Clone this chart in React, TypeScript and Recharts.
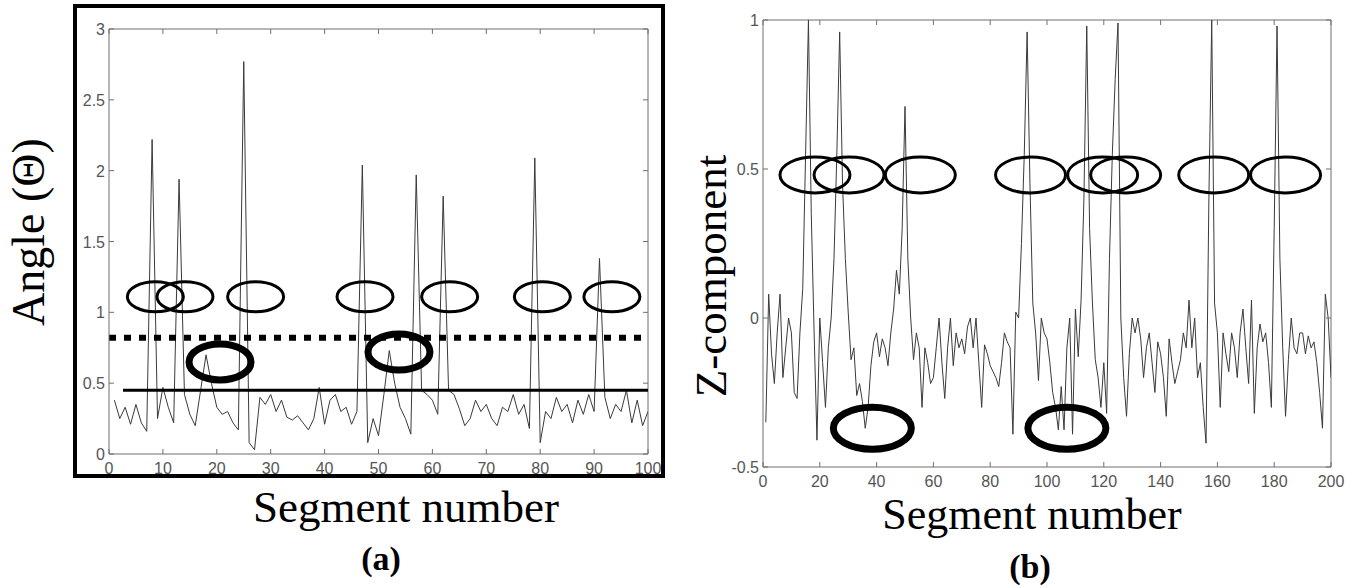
import React from "react";
import { LineChart, Line, XAxis, YAxis, ReferenceLine, ReferenceDot } from "recharts";

// (a) angle between consecutive segments, segments 1..100
const angleValues = [
  0.38, 0.25, 0.33, 0.21, 0.35, 0.22, 0.16, 2.22, 0.25, 0.47,
  0.33, 0.22, 1.94, 0.42, 0.28, 0.2, 0.45, 0.7, 0.5, 0.33,
  0.28, 0.3, 0.22, 0.17, 2.77, 0.08, 0.03, 0.4, 0.35, 0.42,
  0.3, 0.38, 0.26, 0.24, 0.27, 0.22, 0.17, 0.25, 0.47, 0.21,
  0.38, 0.42, 0.3, 0.33, 0.21, 0.3, 2.04, 0.08, 0.25, 0.13,
  0.42, 0.73, 0.5, 0.33, 0.25, 0.14, 1.97, 0.45, 0.42, 0.38,
  0.28, 1.82, 0.45, 0.42, 0.32, 0.2, 0.25, 0.38, 0.3, 0.35,
  0.25, 0.2, 0.33, 0.3, 0.42, 0.28, 0.35, 0.18, 2.09, 0.08,
  0.3, 0.25, 0.4, 0.3, 0.35, 0.22, 0.38, 0.28, 0.42, 0.3,
  1.38, 0.4, 0.25, 0.35, 0.3, 0.45, 0.22, 0.38, 0.2, 0.3,
];

// (b) z-component, segments 1..200
const zValues = [
  -0.35, 0.08, -0.12, -0.22, -0.05, 0.08, -0.2, -0.1, 0.0, -0.05,
  -0.25, -0.27, -0.05, 0.1, 0.55, 1.0, 0.35, -0.05, -0.41, 0.0,
  -0.15, -0.3, -0.1, 0.0, 0.2, 0.55, 0.96, 0.45, 0.2, 0.02,
  -0.14, -0.1, -0.26, -0.22, -0.28, -0.37, -0.3, -0.16, -0.08, -0.05,
  -0.13, -0.07, -0.1, -0.16, -0.05, 0.03, 0.16, 0.08, 0.3, 0.71,
  0.2, 0.0, -0.14, -0.05, -0.1, -0.3, -0.1, -0.15, -0.22, -0.2,
  -0.1, 0.0, -0.15, -0.27, -0.1, 0.0, -0.16, -0.05, -0.1, -0.07,
  -0.12, -0.03, 0.0, -0.1, 0.0, -0.15, -0.3, -0.09, -0.12, -0.16,
  -0.18, -0.2, -0.23, -0.15, -0.05, -0.08, -0.1, -0.39, 0.02, 0.0,
  0.25, 0.55, 0.96, 0.45, 0.05, -0.05, -0.21, 0.0, -0.05, -0.07,
  -0.15, -0.25, -0.3, -0.375, -0.23, -0.375, -0.1, 0.0, -0.39, 0.03,
  -0.13, 0.06, 0.4, 0.98, 0.3, 0.05, -0.14, -0.2, -0.3, -0.15,
  -0.32, 0.2, 0.55, 0.8, 0.99, 0.0, -0.2, -0.33, -0.12, 0.0,
  -0.05, 0.0, -0.07, -0.2, -0.1, -0.05, -0.15, -0.25, -0.08, -0.12,
  -0.2, -0.33, -0.07, -0.15, -0.22, -0.18, -0.14, -0.05, -0.1, 0.06,
  -0.1, 0.0, -0.2, -0.15, -0.3, -0.42, 0.4, 1.0, 0.05, -0.05,
  -0.3, -0.05, -0.12, -0.18, -0.05, -0.1, -0.2, -0.05, 0.03, -0.1,
  -0.22, 0.06, -0.32, -0.1, -0.02, -0.08, -0.05, -0.15, -0.3, 0.3,
  0.98, 0.2, -0.1, -0.33, -0.14, 0.0, -0.1, -0.12, -0.05, -0.05,
  -0.12, -0.06, -0.1, -0.08, -0.15, -0.25, -0.37, 0.08, 0.0, -0.2,
];

const angleXTicks = [0, 10, 20, 30, 40, 50, 60, 70, 80, 90, 100];
const angleYTicks = [0, 0.5, 1, 1.5, 2, 2.5, 3];
const zXTicks = [0, 20, 40, 60, 80, 100, 120, 140, 160, 180, 200];
const zYTicks = [-0.5, 0, 0.5, 1];

const upperThreshold = 0.82;
const lowerThreshold = 0.45;
const lowerThresholdStart = 2.6;

// hand-drawn rings (segment, level)
const angleThinRingSegs = [8.6, 14.1, 27.2, 47.5, 63.2, 80.4, 93.3];
const angleThinRingLevel = 1.11;
const angleThickRingSegs = [20.6, 53.8];
const angleThickRingLevels = [0.65, 0.72];
const zThinRingSegs = [18.3, 30.3, 55.4, 94.2, 119.6, 127.7, 158.7, 184];
const zThinRingLevel = 0.48;
const zThickRingSegs = [38.5, 107];
const zThickRingLevel = -0.37;

const angleData = angleValues.map((v, i) => ({ seg: i + 1, value: v }));
const zData = zValues.map((v, i) => ({ seg: i + 1, value: v }));

const AXIS = "#6f6f6f";
const LABEL = "#555";
const TICK_FONT = '"Liberation Sans", Arial, sans-serif';
const TITLE_FONT = '"Liberation Serif", "Times New Roman", serif';

const xTick = (plotH: number) => (p: any) => (
  <g>
    <line x1={p.x} x2={p.x} y1={p.y} y2={p.y - 5} stroke={AXIS} />
    <line x1={p.x} x2={p.x} y1={p.y - plotH} y2={p.y - plotH + 5} stroke={AXIS} />
    <text x={p.x} y={p.y + 20} textAnchor="middle" fontSize={16} fill={LABEL} fontFamily={TICK_FONT}>
      {p.payload.value}
    </text>
  </g>
);

const yTick = (plotW: number) => (p: any) => (
  <g>
    <line x1={p.x} x2={p.x + 5} y1={p.y} y2={p.y} stroke={AXIS} />
    <line x1={p.x + plotW - 5} x2={p.x + plotW} y1={p.y} y2={p.y} stroke={AXIS} />
    <text x={p.x - 4} y={p.y + 6} textAnchor="end" fontSize={16} fill={LABEL} fontFamily={TICK_FONT}>
      {p.payload.value}
    </text>
  </g>
);

const ring = (rx: number, ry: number, sw: number) => (p: any) => (
  <ellipse cx={p.cx} cy={p.cy} rx={rx} ry={ry} fill="none" stroke="#000" strokeWidth={sw} />
);

function AnglePanel() {
  const plotW = 539;
  const plotH = 425;
  return (
    <LineChart
      width={700}
      height={588}
      data={angleData}
      margin={{ top: 29, left: 69, right: 52, bottom: 104 }}
    >
      <XAxis
        type="number"
        dataKey="seg"
        domain={[0, 100]}
        ticks={angleXTicks}
        interval={0}
        height={30}
        tickSize={0}
        tickMargin={0}
        stroke={AXIS}
        tick={xTick(plotH)}
        allowDataOverflow
      />
      <YAxis
        type="number"
        domain={[0, 3]}
        ticks={angleYTicks}
        interval={0}
        width={40}
        tickSize={0}
        tickMargin={0}
        stroke={AXIS}
        tick={yTick(plotW)}
        allowDataOverflow
      />
      <ReferenceLine y={3} stroke={AXIS} />
      <ReferenceLine x={100} stroke={AXIS} />
      <Line
        type="linear"
        dataKey="value"
        stroke="#3a3a3a"
        strokeWidth={1}
        dot={false}
        isAnimationActive={false}
      />
      <ReferenceLine y={upperThreshold} stroke="#000" strokeWidth={6} strokeDasharray="7 8" />
      <ReferenceLine
        segment={[
          { x: lowerThresholdStart, y: lowerThreshold },
          { x: 100, y: lowerThreshold },
        ]}
        stroke="#000"
        strokeWidth={3}
      />
      {angleThinRingSegs.map((s, i) => (
        <ReferenceDot key={"t" + i} x={s} y={angleThinRingLevel} r={1} ifOverflow="visible" shape={ring(28, 15, 3)} />
      ))}
      {angleThickRingSegs.map((s, i) => (
        <ReferenceDot key={"k" + i} x={s} y={angleThickRingLevels[i]} r={1} ifOverflow="visible" shape={ring(31, 18, 7)} />
      ))}
    </LineChart>
  );
}

function ZPanel() {
  const plotW = 568;
  const plotH = 447;
  return (
    <LineChart
      width={683}
      height={588}
      data={zData}
      margin={{ top: 20, left: 43, right: 32, bottom: 91 }}
    >
      <XAxis
        type="number"
        dataKey="seg"
        domain={[0, 200]}
        ticks={zXTicks}
        interval={0}
        height={30}
        tickSize={0}
        tickMargin={0}
        stroke={AXIS}
        tick={xTick(plotH)}
        allowDataOverflow
      />
      <YAxis
        type="number"
        domain={[-0.5, 1]}
        ticks={zYTicks}
        interval={0}
        width={40}
        tickSize={0}
        tickMargin={0}
        stroke={AXIS}
        tick={yTick(plotW)}
        allowDataOverflow
      />
      <ReferenceLine y={1} stroke={AXIS} />
      <ReferenceLine x={200} stroke={AXIS} />
      <Line
        type="linear"
        dataKey="value"
        stroke="#3a3a3a"
        strokeWidth={1}
        dot={false}
        isAnimationActive={false}
      />
      {zThinRingSegs.map((s, i) => (
        <ReferenceDot key={"t" + i} x={s} y={zThinRingLevel} r={1} ifOverflow="visible" shape={ring(35, 18, 3)} />
      ))}
      {zThickRingSegs.map((s, i) => (
        <ReferenceDot key={"k" + i} x={s} y={zThickRingLevel} r={1} ifOverflow="visible" shape={ring(39, 21, 7)} />
      ))}
    </LineChart>
  );
}

export default function App() {
  return (
    <div style={{ position: "absolute", left: 0, top: 0, width: 1363, height: 588, background: "#fff", overflow: "hidden" }}>
      <div
        style={{
          position: "absolute",
          left: 73,
          top: 4,
          width: 592,
          height: 474,
          border: "4px solid #000",
          boxSizing: "border-box",
        }}
      />
      <div style={{ position: "absolute", left: 0, top: 0 }}>
        <AnglePanel />
      </div>
      <div style={{ position: "absolute", left: 680, top: 0 }}>
        <ZPanel />
      </div>
      <svg
        width={1363}
        height={588}
        style={{ position: "absolute", left: 0, top: 0, pointerEvents: "none" }}
        fontFamily={TITLE_FONT}
      >
        <text x={30} y={246} transform="rotate(-90 30 232)" textAnchor="middle" fontSize={46} fill="#000">
          Angle (Θ)
        </text>
        <text x={712} y={290} transform="rotate(-90 712 276)" textAnchor="middle" fontSize={45} fill="#000">
          Z-component
        </text>
        <text x={406} y={522} textAnchor="middle" fontSize={45} fill="#000">
          Segment number
        </text>
        <text x={1032} y={529} textAnchor="middle" fontSize={44} fill="#000">
          Segment number
        </text>
        <text x={381} y={570} textAnchor="middle" fontSize={34} fontWeight="bold" fill="#000">
          (a)
        </text>
        <text x={1030} y={578} textAnchor="middle" fontSize={34} fontWeight="bold" fill="#000">
          (b)
        </text>
      </svg>
    </div>
  );
}
